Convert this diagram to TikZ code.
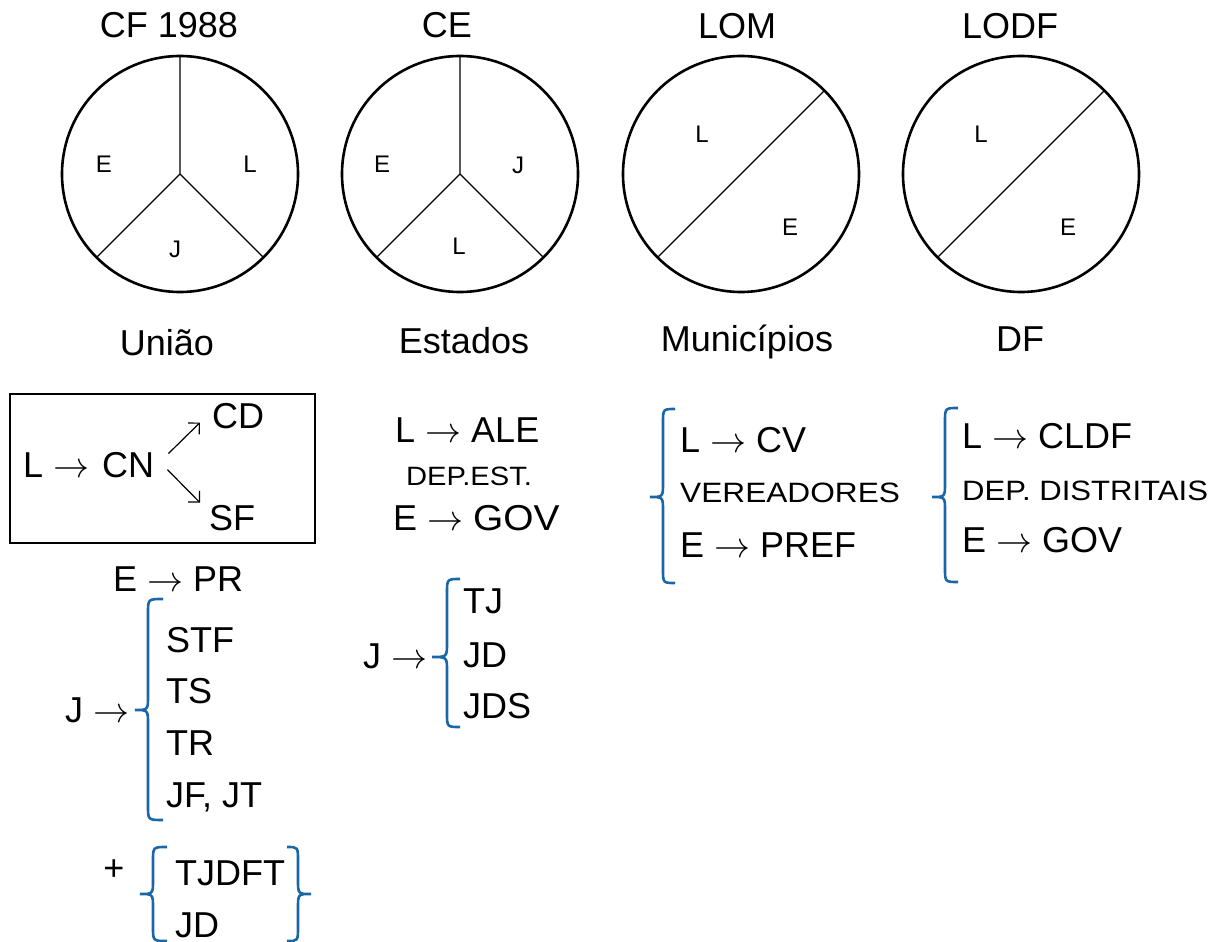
\RequirePackage{fix-cm}
\documentclass[tikz,border=0pt]{standalone}
\usepackage{fontspec}
\setmainfont{Liberation Sans}
\usetikzlibrary{arrows.meta}
\definecolor{braceblue}{HTML}{1A66A6}
\newcommand\arr{$\rightarrow$}
% curly brace: #1 end x, #2 stem x, #3 tip x, #4 top y, #5 tip y, #6 bottom y
\newcommand\curly[6]{%
  \draw[bracepen] (#1,#4) .. controls (#2,#4) .. (#2,#4+14) -- (#2,#5-14)
    .. controls (#2,#5) .. (#3,#5) .. controls (#2,#5) .. (#2,#5+14)
    -- (#2,#6-14) .. controls (#2,#6) .. (#1,#6);}
\begin{document}
\begin{tikzpicture}[x=1pt,y=-1pt,
  bigtxt/.style={font=\fontsize{36}{40}\selectfont, inner sep=0pt},
  midtxt/.style={font=\fontsize{28}{32}\selectfont, inner sep=0pt},
  lbltxt/.style={font=\fontsize{24}{28}\selectfont, inner sep=0pt},
  ring/.style={circle, draw, line width=2.6pt, minimum size=236pt, inner sep=0pt, outer sep=0pt},
  spoke/.style={line width=1.3pt},
  bracepen/.style={draw=braceblue, line width=2.6pt},
  thinarrow/.style={line width=1.2pt, -{Straight Barb[length=8pt,width=16pt]}},
  frame/.style={draw, line width=2.2pt, minimum width=305pt, minimum height=149pt, inner sep=0pt},
]
\useasboundingbox (0,0) rectangle (1232,942);

% ---- the four circles ----
\node[ring] (c1) at (180,174) {};
\node[ring] (c2) at (460,174) {};
\node[ring] (c3) at (741,174) {};
\node[ring] (c4) at (1021,174) {};
\draw[spoke] (c1.center) -- (c1.90) (c1.center) -- (c1.225) (c1.center) -- (c1.315);
\draw[spoke] (c2.center) -- (c2.90) (c2.center) -- (c2.225) (c2.center) -- (c2.315);
\draw[spoke] (c3.225) -- (c3.45);
\draw[spoke] (c4.225) -- (c4.45);

\node[lbltxt] (e1) at (104,164) {E};
\node[lbltxt] (l1) at (250,164) {L};
\node[lbltxt] (j1) at (175,249) {J};
\node[lbltxt] (e2) at (382,164) {E};
\node[lbltxt] (j2) at (518,165) {J};
\node[lbltxt] (l2) at (459,246) {L};
\node[lbltxt] (l3) at (702,134) {L};
\node[lbltxt] (e3) at (790,227) {E};
\node[lbltxt] (l4) at (981,134) {L};
\node[lbltxt] (e4) at (1068,227) {E};

% ---- titles ----
\node[bigtxt, anchor=base] (t1) at (169,38) {CF 1988};
\node[bigtxt, anchor=base] (t2) at (447,38) {CE};
\node[bigtxt, anchor=base] (t3) at (737,39) {LOM};
\node[bigtxt, anchor=base] (t4) at (1010,39) {LODF};
\node[bigtxt, anchor=base] (u1) at (167,355) {União};
\node[bigtxt, anchor=base] (u2) at (464,353) {Estados};
\node[bigtxt, anchor=base] (u3) at (747,351) {Municípios};
\node[bigtxt, anchor=base] (u4) at (1020,351) {DF};

% ---- União ----
\node[frame] (box) at (162.5,468.5) {};
\node[bigtxt, anchor=base west] (lb) at (23,477) {L \arr};
\node[bigtxt, anchor=base west] (cn) at (102,477) {CN};
\node[bigtxt, anchor=base west] (cd) at (212,428) {CD};
\node[bigtxt, anchor=base west] (sf) at (209,530) {SF};
\draw[thinarrow] ([shift={(14,-11)}]cn.east) -- ([shift={(-12,-6)}]cd.south west);
\draw[thinarrow] ([shift={(13,5)}]cn.east) -- ([shift={(-9,-2)}]sf.north west);

\node[bigtxt, anchor=base west] (epr) at (113,591) {E \arr{} PR};
\node[bigtxt, anchor=base west] (ju) at (65,722) {J \arr};
\curly{163}{148}{135}{599}{710}{820}
\node[bigtxt, anchor=base west] (stf) at (166,652) {STF};
\node[bigtxt, anchor=base west] (ts) at (166,703) {TS};
\node[bigtxt, anchor=base west] (tr) at (166,755) {TR};
\node[bigtxt, anchor=base west] (jf) at (166,807) {JF, JT};

\node[bigtxt, anchor=base] (plus) at (114,880) {+};
\curly{167}{153}{140}{847}{894}{941}
\curly{287}{298}{311}{847}{894}{941}
\node[bigtxt, anchor=base west] (tjdft) at (175,885) {TJDFT};
\node[bigtxt, anchor=base west] (jdu) at (175,937) {JD};

% ---- Estados ----
\node[bigtxt, anchor=base west] (ale) at (395,442) {L \arr{} ALE};
\node[midtxt, anchor=base] (dep) at (469,485) {\scalebox{1.1}[1]{\fontsize{26.5}{30}\selectfont DEP.EST.}};
\node[bigtxt, anchor=base west] (gov) at (393,530) {E \arr{} \scalebox{1.08}[1]{GOV}};
\node[bigtxt, anchor=base west] (je) at (363,668) {J \arr};
\curly{460}{447}{432}{579}{657}{727}
\node[bigtxt, anchor=base west] (tj) at (463,613) {TJ};
\node[bigtxt, anchor=base west] (jde) at (463,667) {JD};
\node[bigtxt, anchor=base west] (jds) at (463,718) {JDS};

% ---- Municípios ----
\curly{675}{663}{650}{409}{497}{583}
\node[bigtxt, anchor=base west] (cv) at (680,452) {L \arr{} CV};
\node[midtxt, anchor=base west] (ver) at (680,502) {\scalebox{1.13}[1]{VEREADORES}};
\node[bigtxt, anchor=base west] (pref) at (680,557) {E \arr{} PREF};

% ---- DF ----
\curly{958}{945}{932}{408}{497}{582}
\node[bigtxt, anchor=base west] (cldf) at (962,448) {L \arr{} CLDF};
\node[midtxt, anchor=base west] (dist) at (962,500) {\scalebox{1.11}[1]{DEP. DISTRITAIS}};
\node[bigtxt, anchor=base west] (govdf) at (962,552) {E \arr{} GOV};
\end{tikzpicture}
\end{document}
